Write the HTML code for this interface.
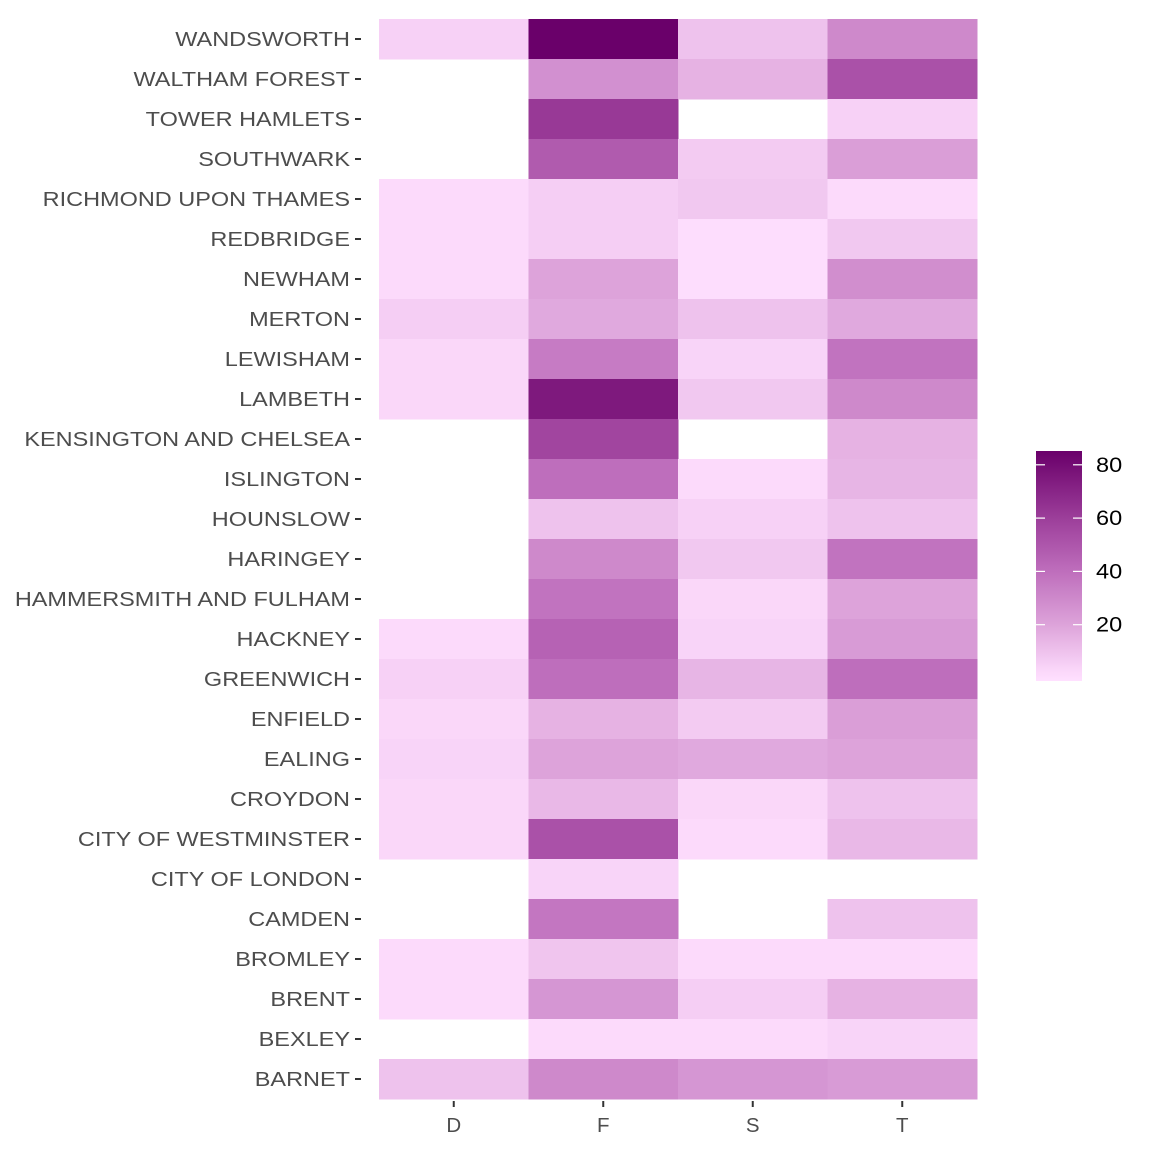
<!DOCTYPE html>
<html><head><meta charset="utf-8"><style>
body{margin:0;background:#fff;font-family:"Liberation Sans",sans-serif}
svg text{font-family:"Liberation Sans",sans-serif}
</style></head><body>
<svg id="c" width="1152" height="1152"></svg>
<script>
const rows = ["WANDSWORTH","WALTHAM FOREST","TOWER HAMLETS","SOUTHWARK","RICHMOND UPON THAMES","REDBRIDGE","NEWHAM","MERTON","LEWISHAM","LAMBETH","KENSINGTON AND CHELSEA","ISLINGTON","HOUNSLOW","HARINGEY","HAMMERSMITH AND FULHAM","HACKNEY","GREENWICH","ENFIELD","EALING","CROYDON","CITY OF WESTMINSTER","CITY OF LONDON","CAMDEN","BROMLEY","BRENT","BEXLEY","BARNET"];
const cols = ["D","F","S","T"];
const colD = [5,null,null,null,2,2,2,6,3,3,null,null,null,null,null,2,5,3,4,3,3,null,null,2,2,null,10];
const colF = [85,27,62,48,6,6,20,18,35,75,57,40,10,30,38,45,40,15,20,13,52,4,37,9,25,2,30];
const colS = [10,15,null,7,8,1,1,10,4,8,null,2,5,8,3,4,14,7,18,3,2,null,null,2,6,2,25];
const colT = [30,52,5,22,2,8,28,18,38,30,15,14,10,38,20,23,40,22,20,10,13,null,10,2,15,4,23];
const legendTicks = [20,40,60,80];
const svg = document.getElementById('c');
const NS = "http://www.w3.org/2000/svg";
function el(t,a,p){const e=document.createElementNS(NS,t);for(const k in a)e.setAttribute(k,a[k]);(p||svg).appendChild(e);return e;}
function stretch(t,f){const w=t.getComputedTextLength();t.setAttribute('textLength',w*f);t.setAttribute('lengthAdjust','spacingAndGlyphs');}
const x0=379,cw=149.5,y0=19,rh=40,vmin=0,vmax=85;
const stops=[[0,[255,224,255]],[20,[221,163,218]],[40,[190,110,188]],[60,[156,62,154]],[85,[106,0,106]]];
function color(v){v=Math.max(vmin,Math.min(vmax,v));for(let i=0;i<stops.length-1;i++){const[a,ca]=stops[i],[b,cb]=stops[i+1];if(v<=b){const t=(v-a)/(b-a);return 'rgb('+ca.map((c,j)=>Math.round(c+(cb[j]-c)*t)).join(',')+')';}}}
const xs=i=>x0+i*cw, ys=i=>y0+i*rh;
const data=[colD,colF,colS,colT];
data.forEach((arr,ci)=>arr.forEach((v,ri)=>{if(v==null)return;
 const r=el('rect',{x:xs(ci),y:ys(ri),width:cw+0.5,height:rh+0.5,fill:color(v)});
 
 }));
rows.forEach((n,i)=>{const y=ys(i)+rh/2;
 el('line',{x1:355,x2:361,y1:y,y2:y,stroke:'#333','stroke-width':2});
 const t=el('text',{x:350,y:y+7,'text-anchor':'end','font-size':20.5,fill:'#4d4d4d'});t.textContent=n;
 
 stretch(t,1.145);});
cols.forEach((n,i)=>{const x=xs(i)+cw/2;
 el('line',{x1:x,x2:x,y1:1101,y2:1107,stroke:'#333','stroke-width':2});
 const t=el('text',{x:x,y:1132,'text-anchor':'middle','font-size':20.5,fill:'#4d4d4d'});t.textContent=n;
 });
const lx=1036,lw=46,ly0=451,ly1=681;
const ly=v=>678-(v/20)*53.3;
const defs=el('defs',{});const g=el('linearGradient',{id:'lg',x1:0,y1:1,x2:0,y2:0},defs);
const vtop=(678-ly0)/53.3*20, vbot=(678-ly1)/53.3*20;
for(let k=0;k<=20;k++){const v=vbot+(vtop-vbot)*k/20;el('stop',{offset:k/20,'stop-color':color(v)},g);}
const lr=el('rect',{x:lx,y:ly0,width:lw,height:ly1-ly0,fill:'url(#lg)'});

legendTicks.forEach(v=>{const y=ly(v);
 el('line',{x1:lx,x2:lx+9,y1:y,y2:y,stroke:'#fff','stroke-width':1.2});
 el('line',{x1:lx+lw-9,x2:lx+lw,y1:y,y2:y,stroke:'#fff','stroke-width':1.2});
 const t=el('text',{x:1096,y:y+7,'font-size':21,fill:'#000'});t.textContent=v;
 
 stretch(t,1.12);});
</script>
</body></html>
